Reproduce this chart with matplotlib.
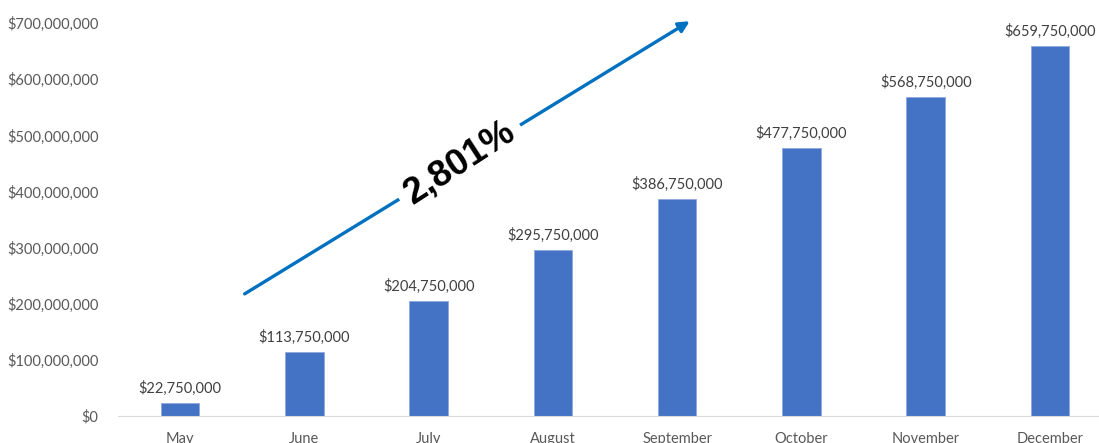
import matplotlib.pyplot as plt

# Monthly totals
months = ['May', 'June', 'July', 'August', 'September', 'October', 'November', 'December']
totals = [22750000, 113750000, 204750000, 295750000, 386750000, 477750000, 568750000, 659750000]
growth_label = '2,801%'

plt.rcParams['font.family'] = ['Lato', 'DejaVu Sans']

fig = plt.figure(figsize=(10.99, 4.43), dpi=100)
ax = fig.add_axes([0.1074, 0.0609, 0.9045, 0.887])

x = range(len(months))
bars = ax.bar(x, totals, width=0.31, color='#4472C4', edgecolor='#8FAADC', linewidth=0.6)

# value labels above bars
for i, v in enumerate(totals):
    ax.annotate('${:,.0f}'.format(v), (i, v), xytext=(0, 5), textcoords='offset points',
                ha='center', va='bottom', fontsize=10.5, color='#404040')

ax.set_xlim(-0.5, 7.5)
ax.set_ylim(0, 700000000)
ax.set_yticks(range(0, 700000001, 100000000))
ax.yaxis.set_major_formatter(plt.FuncFormatter(lambda v, p: '${:,.0f}'.format(v)))
ax.set_xticks(list(x))
ax.set_xticklabels(months)
ax.tick_params(axis='y', length=0, pad=14, labelsize=10.5, labelcolor='#595959')
ax.tick_params(axis='x', length=0, pad=11.5, labelsize=10.5, labelcolor='#595959')

for s in ['top', 'right', 'left']:
    ax.spines[s].set_visible(False)
ax.spines['bottom'].set_color('#D9D9D9')

# growth arrow
ax.annotate('', xy=(4.12, 706000000), xytext=(0.5, 215000000), xycoords='data',
            annotation_clip=False,
            arrowprops=dict(arrowstyle='-|>', color='#0070C0', lw=2.4, mutation_scale=16))
ax.text(2.25, 452000000, growth_label, rotation=33, ha='center', va='center',
        fontsize=26.5, fontweight='bold', family=['Liberation Sans', 'DejaVu Sans'],
        bbox=dict(facecolor='white', edgecolor='none', pad=6))

fig.savefig('out.png', dpi=100)
